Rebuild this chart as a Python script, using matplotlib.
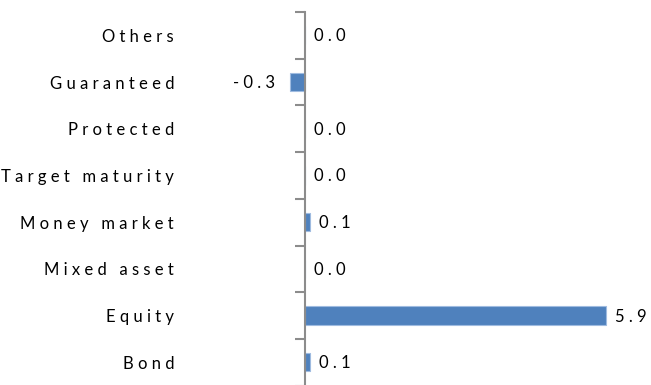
import matplotlib
matplotlib.use("Agg")
import matplotlib.pyplot as plt
import numpy as np
from matplotlib.transforms import offset_copy

categories = ["Bond", "Equity", "Mixed asset", "Money market",
              "Target maturity", "Protected", "Guaranteed", "Others"]
values = [0.1, 5.9, 0.0, 0.1, 0.0, 0.0, -0.3, 0.0]

FONT = ["Lato", "DejaVu Sans"]
THIN = "\u2009"
FS = 12


def tracked(s):
    """Letter-spaced label text."""
    return (THIN * 2).join(s)


W, H, DPI = 651, 385, 100
fig = plt.figure(figsize=(W / DPI, H / DPI), dpi=DPI)

# axes geometry in pixels
x_zero = 305.0
px_per_unit = 51.0
ax_left_px, ax_right_px = 280.0, 645.0
top_px = 12.0
row_px = 46.7
n = len(categories)
bottom_px = top_px + row_px * n

ax = fig.add_axes([ax_left_px / W, (H - bottom_px) / H,
                   (ax_right_px - ax_left_px) / W, (bottom_px - top_px) / H])
ax.set_xlim((ax_left_px - x_zero) / px_per_unit, (ax_right_px - x_zero) / px_per_unit)
ax.set_ylim(-0.5, n - 0.5)

y = np.arange(n)
ax.barh(y, values, height=0.39, color="#4F81BD", edgecolor="#9fbbe0", linewidth=0.8,
        zorder=2)

for s in ["top", "right", "bottom"]:
    ax.spines[s].set_visible(False)
ax.spines["left"].set_position(("data", 0))
ax.spines["left"].set_color("#8c8c8c")
ax.spines["left"].set_linewidth(1.5)
ax.spines["left"].set_zorder(3)

ax.set_xticks([])
ax.set_yticks(y)
ax.set_yticklabels([tracked(c) for c in categories], fontsize=FS, family=FONT,
                   color="#000000")
ax.tick_params(axis="y", which="major", length=0, pad=(x_zero - 174) * 0.72)
ax.set_yticks(np.arange(-0.5, n, 1.0), minor=True)
ax.tick_params(axis="y", which="minor", length=7.2, width=1.5, color="#8c8c8c",
               direction="out")

for yi, v in zip(y, values):
    txt = tracked(f"{v:.1f}")
    if v < 0:
        tr = offset_copy(ax.transData, fig=fig, x=-15, y=-1, units="dots")
        ax.text(v, yi, txt, transform=tr, ha="right", va="center", fontsize=FS,
                family=FONT, color="#000000")
    else:
        tr = offset_copy(ax.transData, fig=fig, x=9, y=-1, units="dots")
        ax.text(v, yi, txt, transform=tr, ha="left", va="center", fontsize=FS,
                family=FONT, color="#000000")

fig.savefig("out.png", dpi=DPI)
